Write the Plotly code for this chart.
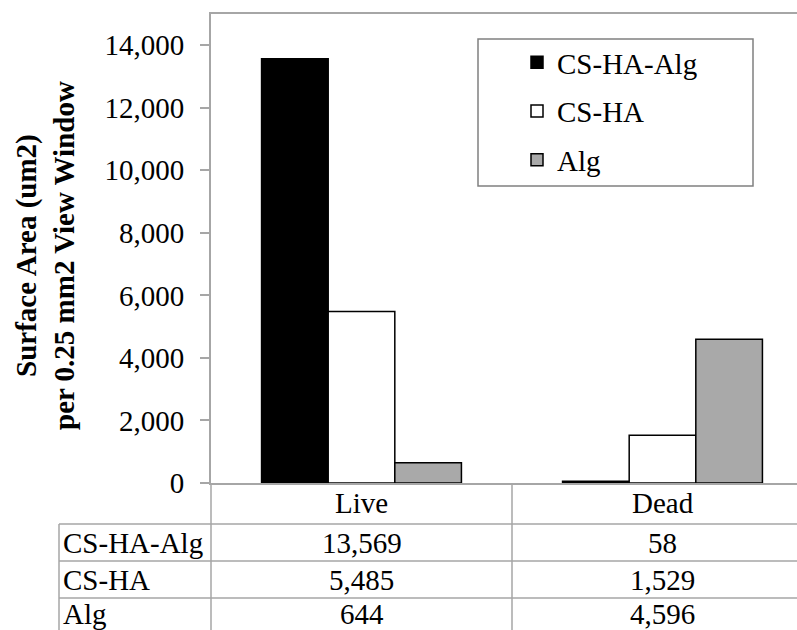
import plotly.graph_objects as go

# ---- data ----
categories = ["Live", "Dead"]
series_names = ["CS-HA-Alg", "CS-HA", "Alg"]
cs_ha_alg = [13569, 58]
cs_ha = [5485, 1529]
alg = [644, 4596]
y_tick_values = [0, 2000, 4000, 6000, 8000, 10000, 12000, 14000]

series_values = [cs_ha_alg, cs_ha, alg]
fill_colors = ["#000000", "#ffffff", "#a9a9a9"]

# ---- layout geometry (pixels) ----
W, H = 797, 630
PLOT_L, PLOT_T, PLOT_B = 211, 14, 483
PLOT_W = W - PLOT_L
PLOT_H = PLOT_B - PLOT_T
CAT_W = 301  # pixel width of one category slot

FONT = "Liberation Serif"
GRID_GRAY = "#a6a6a6"
FS = 29


def px_x(x):
    return (x - PLOT_L) / PLOT_W


def px_y(y):
    return (PLOT_B - y) / PLOT_H


fig = go.Figure()
x_pos = list(range(len(categories)))
for name, vals, col in zip(series_names, series_values, fill_colors):
    fig.add_trace(go.Bar(
        name=name, x=x_pos, y=vals,
        marker=dict(color=col, line=dict(color="#000000", width=1.5)),
        legendgroup=name,
    ))

# data table below the plot
table_lines_y = [524, 561, 598]
row_text_y = [542.5, 579.5, 614]
shapes = []
for yl in table_lines_y:
    shapes.append(dict(type="line", xref="paper", yref="paper",
                       x0=px_x(59), x1=1.0, y0=px_y(yl), y1=px_y(yl),
                       line=dict(color=GRID_GRAY, width=1.5)))
shapes.append(dict(type="line", xref="paper", yref="paper",
                   x0=px_x(59), x1=px_x(59), y0=px_y(524), y1=px_y(H + 2),
                   line=dict(color=GRID_GRAY, width=1.5)))
shapes.append(dict(type="line", xref="paper", yref="paper",
                   x0=0, x1=0, y0=0, y1=px_y(H + 2),
                   line=dict(color=GRID_GRAY, width=1.5)))
shapes.append(dict(type="line", xref="x", yref="paper",
                   x0=0.5, x1=0.5, y0=0, y1=px_y(H + 2),
                   line=dict(color=GRID_GRAY, width=1.5)))
# legend frame
shapes.append(dict(type="rect", xref="paper", yref="paper",
                   x0=px_x(478), x1=px_x(753), y0=px_y(39), y1=px_y(186),
                   line=dict(color="#808080", width=1.5), fillcolor="rgba(0,0,0,0)"))

annotations = []
for name, vals, ty in zip(series_names, series_values, row_text_y):
    annotations.append(dict(xref="paper", yref="paper", x=px_x(61), y=px_y(ty),
                            text=name, showarrow=False, xanchor="left", yanchor="middle",
                            font=dict(family=FONT, size=FS, color="#000000")))
    for xi, v in zip(x_pos, vals):
        annotations.append(dict(xref="x", yref="paper", x=xi, y=px_y(ty),
                                text=f"{v:,}", showarrow=False, xanchor="center",
                                yanchor="middle",
                                font=dict(family=FONT, size=FS, color="#000000")))
for xi, cat in zip(x_pos, categories):
    annotations.append(dict(xref="x", yref="paper", x=xi, y=px_y(503),
                            text=cat, showarrow=False, xanchor="center", yanchor="middle",
                            font=dict(family=FONT, size=FS, color="#000000")))

# y-axis title
annotations.append(dict(xref="paper", yref="paper", x=px_x(45), y=px_y(256),
                        text="<b>Surface Area (um2)</b><br><b>per 0.25 mm2 View Window</b>",
                        textangle=-90, showarrow=False, xanchor="center", yanchor="middle",
                        font=dict(family=FONT, size=FS, color="#000000")))

x_end = -0.5 + PLOT_W / CAT_W

fig.update_layout(
    width=W, height=H,
    margin=dict(l=PLOT_L, r=0, t=PLOT_T, b=H - PLOT_B),
    paper_bgcolor="#ffffff", plot_bgcolor="#ffffff",
    barmode="group", bargap=0.336, bargroupgap=0,
    font=dict(family=FONT, size=FS, color="#000000"),
    showlegend=True,
    legend=dict(x=px_x(517), y=px_y(37), xanchor="left", yanchor="top",
                bgcolor="rgba(0,0,0,0)", borderwidth=0,
                font=dict(family=FONT, size=FS, color="#000000"),
                tracegroupgap=8, traceorder="grouped"),
    xaxis=dict(range=[-0.5, x_end], tickvals=x_pos, ticktext=["", ""],
               showline=True, linecolor=GRID_GRAY, linewidth=2, mirror=True,
               showgrid=False, zeroline=False, ticks="", fixedrange=True),
    yaxis=dict(range=[0, 15000], tickvals=y_tick_values,
               tickformat=",d", showline=True, linecolor=GRID_GRAY, linewidth=2,
               ticks="outside", ticklen=9, tickcolor=GRID_GRAY, tickwidth=1.5,
               ticklabelstandoff=10,
               showgrid=False, zeroline=False,
               tickfont=dict(family=FONT, size=FS, color="#000000")),
    shapes=shapes, annotations=annotations,
)

fig.write_html("out.html")
